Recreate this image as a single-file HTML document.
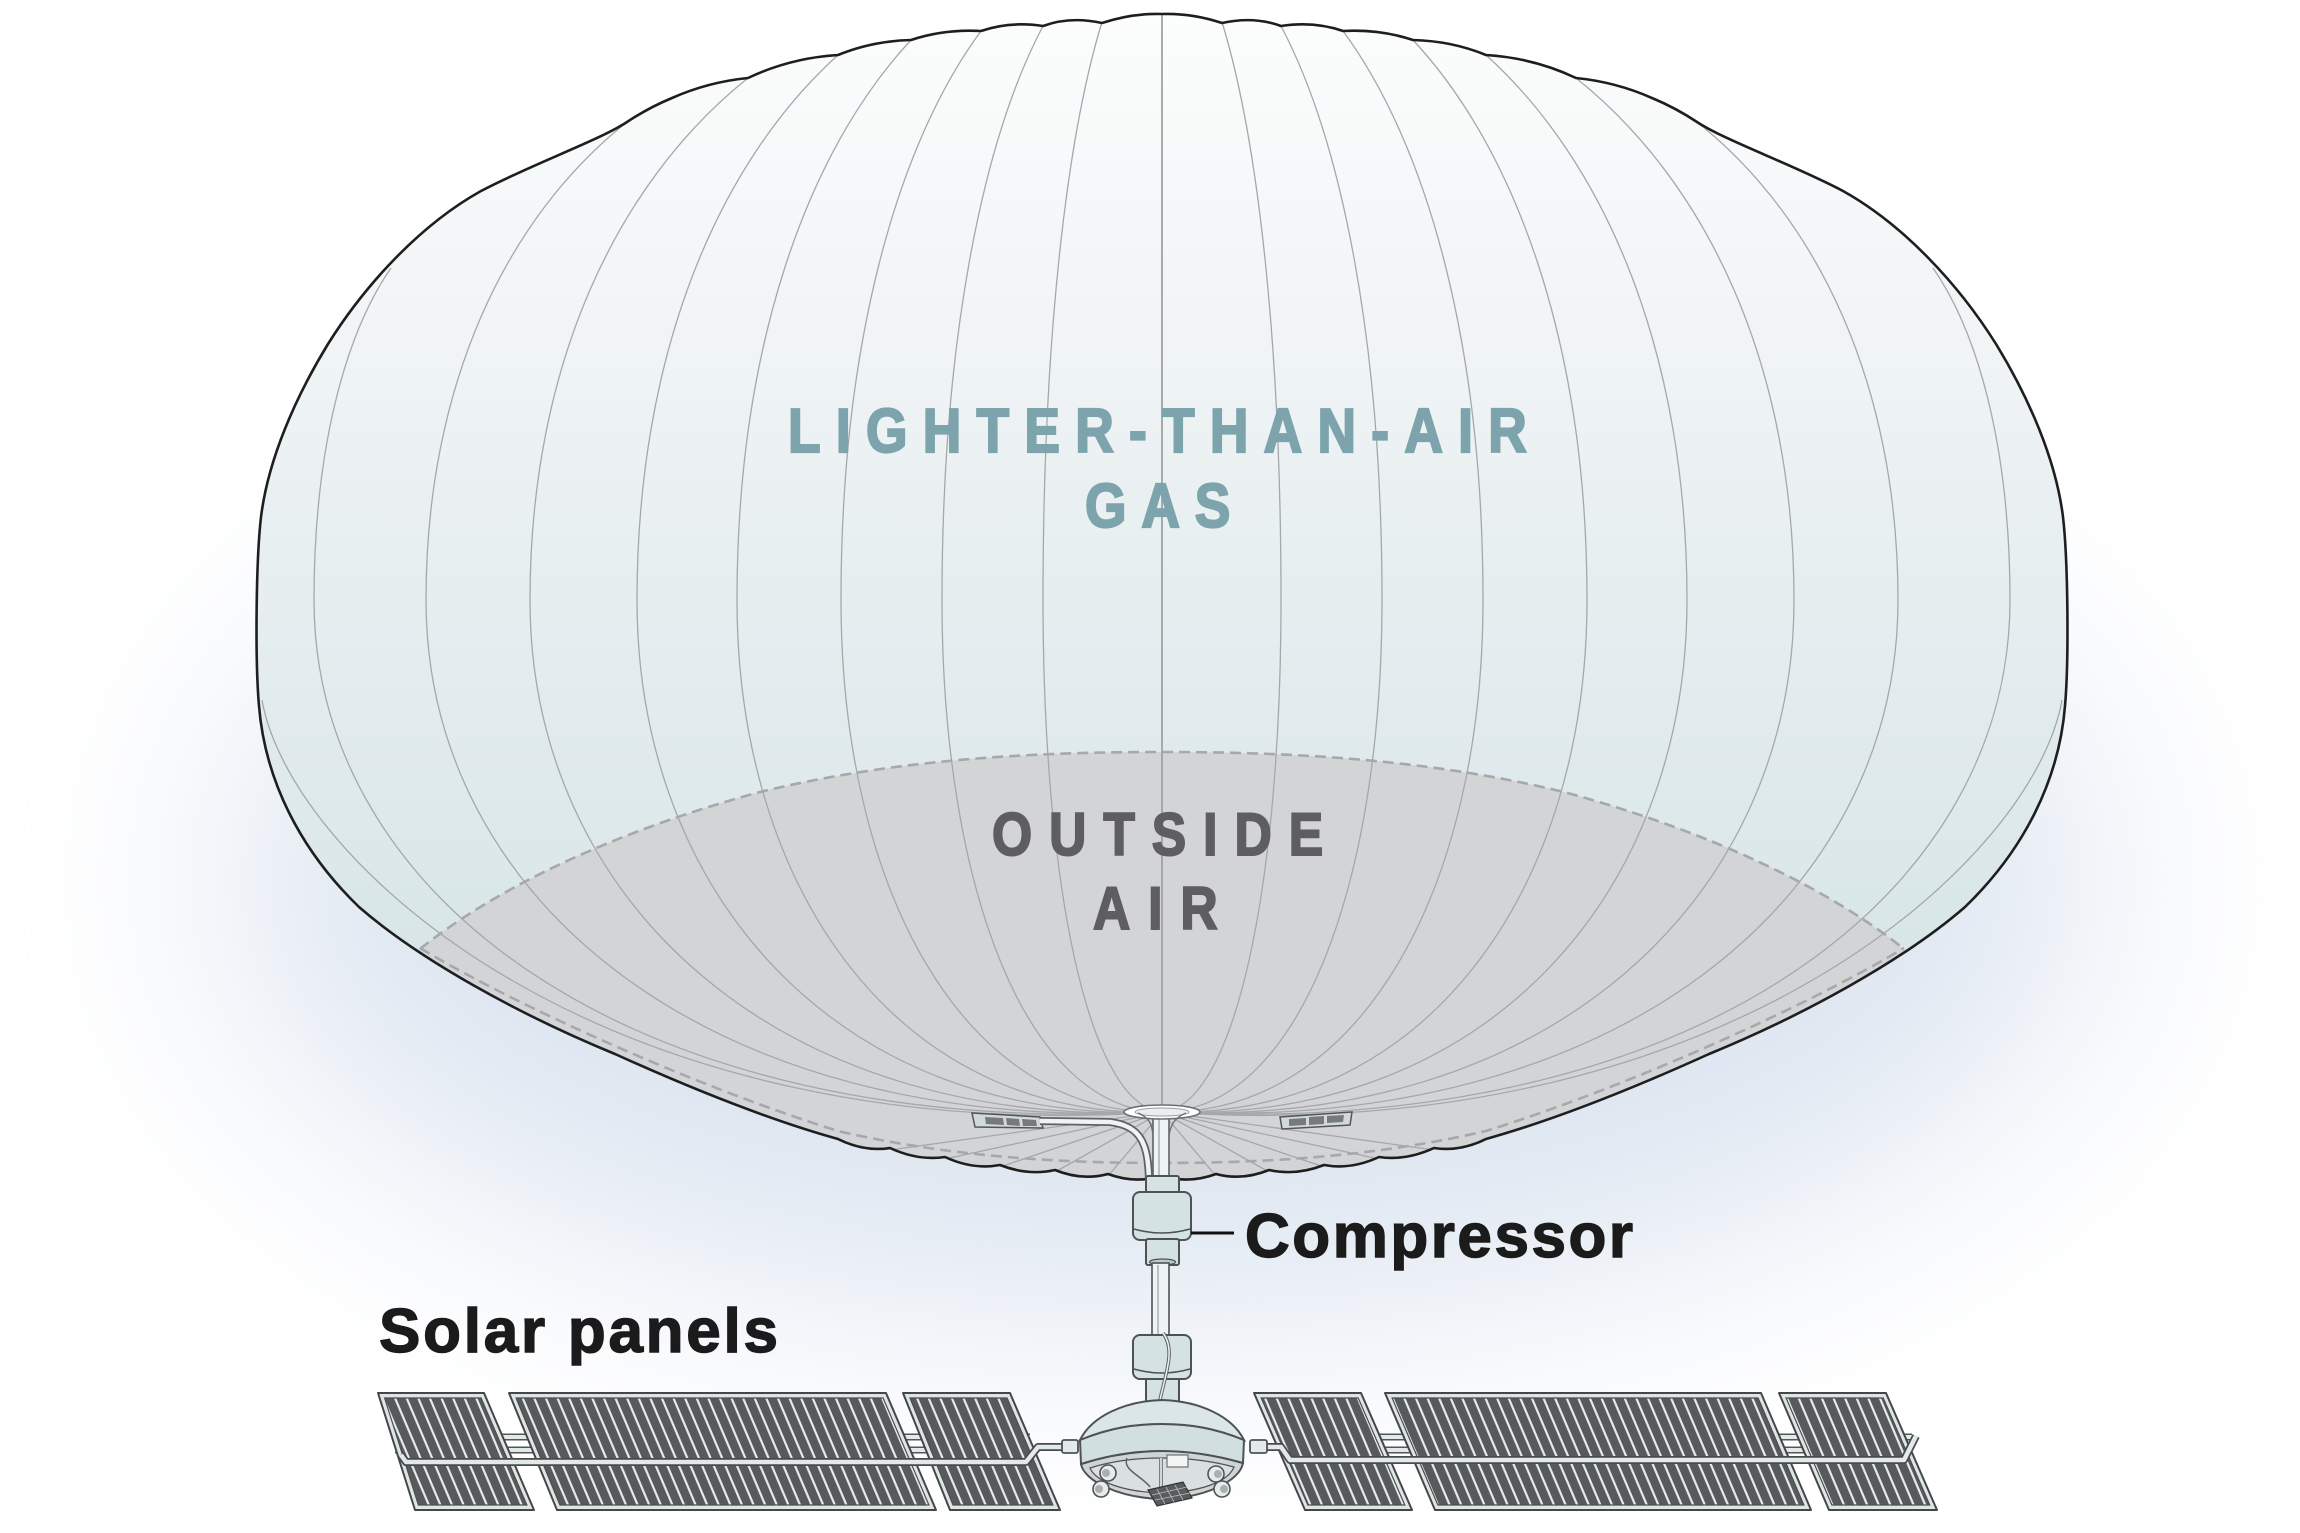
<!DOCTYPE html>
<html>
<head>
<meta charset="utf-8">
<style>
  html,body{margin:0;padding:0;background:#fff;}
  svg{display:block;}
  .lbl{font-family:"Liberation Sans",Arial,sans-serif;font-weight:bold;}
</style>
</head>
<body>
<svg width="2300" height="1533" viewBox="0 0 2300 1533" xmlns="http://www.w3.org/2000/svg">
  <defs>
    <filter id="blur" x="-60%" y="-60%" width="220%" height="220%">
      <feGaussianBlur stdDeviation="125"/>
    </filter>
    <linearGradient id="gas" x1="0" y1="14" x2="0" y2="960" gradientUnits="userSpaceOnUse">
      <stop offset="0" stop-color="#fcfdfd"/>
      <stop offset="0.35" stop-color="#f0f4f5"/>
      <stop offset="0.7" stop-color="#e3ecee"/>
      <stop offset="1" stop-color="#d8e6e7"/>
    </linearGradient>
    <clipPath id="balclip">
      <path d="M1162,14 Q1132,13 1102,23 Q1070,16 1043,26 Q1010,21 981,31 Q944,29 911,40 Q872,41 838,55 Q790,58 748,78 Q708,82 672,98 Q648,108 627,122 C600,140 530,165 481,191 C420,225 365,285 328,344 C295,398 268,460 261,517 C256,560 255,660 259,706 C265,780 300,850 359,907 C420,960 520,1015 615,1054 C690,1088 770,1120 838,1139 Q864,1152 890,1148 Q918,1161 945,1157 Q973,1170 1000,1165 Q1028,1176 1055,1170 Q1082,1181 1108,1174 Q1135,1184 1162,1176 Q1189,1184 1216,1174 Q1242,1181 1269,1170 Q1296,1176 1324,1165 Q1351,1170 1379,1157 Q1406,1161 1434,1148 Q1460,1152 1486,1139 C1554,1120 1634,1088 1709,1054 C1804,1015 1904,960 1965,907 C2024,850 2059,780 2065,706 C2069,660 2068,560 2063,517 C2056,460 2029,398 1996,344 C1959,285 1904,225 1843,191 C1794,165 1724,140 1697,122 Q1676,108 1652,98 Q1616,82 1576,78 Q1534,58 1486,55 Q1452,41 1413,40 Q1380,29 1343,31 Q1314,21 1281,26 Q1254,16 1222,23 Q1192,13 1162,14 Z"/>
    </clipPath>
    <pattern id="cells" width="11.6" height="40" patternUnits="userSpaceOnUse" patternTransform="skewX(23)">
      <rect width="11.6" height="40" fill="#e3eaeb"/>
      <rect x="0" width="9.2" height="40" fill="#58595b"/>
    </pattern>
  </defs>

  <!-- background -->
  <rect width="2300" height="1533" fill="#ffffff"/>
  <ellipse cx="1162" cy="880" rx="930" ry="430" fill="#dbe4f0" filter="url(#blur)"/>

  <!-- balloon fills -->
  <path fill="url(#gas)" d="M1162,14 Q1132,13 1102,23 Q1070,16 1043,26 Q1010,21 981,31 Q944,29 911,40 Q872,41 838,55 Q790,58 748,78 Q708,82 672,98 Q648,108 627,122 C600,140 530,165 481,191 C420,225 365,285 328,344 C295,398 268,460 261,517 C256,560 255,660 259,706 C265,780 300,850 359,907 C420,960 520,1015 615,1054 C690,1088 770,1120 838,1139 Q864,1152 890,1148 Q918,1161 945,1157 Q973,1170 1000,1165 Q1028,1176 1055,1170 Q1082,1181 1108,1174 Q1135,1184 1162,1176 Q1189,1184 1216,1174 Q1242,1181 1269,1170 Q1296,1176 1324,1165 Q1351,1170 1379,1157 Q1406,1161 1434,1148 Q1460,1152 1486,1139 C1554,1120 1634,1088 1709,1054 C1804,1015 1904,960 1965,907 C2024,850 2059,780 2065,706 C2069,660 2068,560 2063,517 C2056,460 2029,398 1996,344 C1959,285 1904,225 1843,191 C1794,165 1724,140 1697,122 Q1676,108 1652,98 Q1616,82 1576,78 Q1534,58 1486,55 Q1452,41 1413,40 Q1380,29 1343,31 Q1314,21 1281,26 Q1254,16 1222,23 Q1192,13 1162,14 Z"/>

  <g clip-path="url(#balclip)">
    <path fill="#d3d4d6" d="M420,949 C500,885 620,830 760,792 C900,758 1040,752 1162,752 C1284,752 1424,758 1564,792 C1704,830 1824,885 1904,949 L2200,1300 L120,1300 Z"/>
    <!-- gore lines -->
    <g fill="none" stroke="#a4a8ab" stroke-width="1.3">
      <path d="M1102,22 C1066.6,137.6 1043,339.9 1043,600 C1043,882.8 1088.2,1105.6 1162,1112"/>
      <path d="M1043,26 C982.4,140.8 942,341.7 942,600 C942,885.2 1025.6,1110.4 1162,1112"/>
      <path d="M981,31 C897,144.8 841,344 841,600 C841,887.6 963,1115.1 1162,1112"/>
      <path d="M911,40 C806.6,152 737,348 737,600 C737,890 898.5,1120 1162,1112"/>
      <path d="M838,55 C717.4,164 637,354.75 637,600 C637,892.4 836.5,1124.7 1162,1112"/>
      <path d="M748,78 C617.2,182.4 530,365 530,600 C530,894.9 770.2,1129.7 1162,1112"/>
      <path d="M627,122 C506.4,217.6 426,385 426,600 C426,897.3 705.7,1134.6 1162,1112"/>
      <path d="M391,268 C344.8,334.4 314,450.6 314,600 C314,900 636.2,1139.9 1162,1112"/>
      <path d="M262,700 C290,860 600,1150 1162,1112"/>
      <path d="M1222,22 C1257.4,137.6 1281,339.9 1281,600 C1281,882.8 1235.8,1105.6 1162,1112"/>
      <path d="M1281,26 C1341.6,140.8 1382,341.7 1382,600 C1382,885.2 1298.4,1110.4 1162,1112"/>
      <path d="M1343,31 C1427,144.8 1483,344 1483,600 C1483,887.6 1361,1115.1 1162,1112"/>
      <path d="M1413,40 C1517.4,152 1587,348 1587,600 C1587,890 1425.5,1120 1162,1112"/>
      <path d="M1486,55 C1606.6,164 1687,354.75 1687,600 C1687,892.4 1487.5,1124.7 1162,1112"/>
      <path d="M1576,78 C1706.8,182.4 1794,365 1794,600 C1794,894.9 1553.8,1129.7 1162,1112"/>
      <path d="M1697,122 C1817.6,217.6 1898,385 1898,600 C1898,897.3 1618.3,1134.6 1162,1112"/>
      <path d="M1933,268 C1979.2,334.4 2010,450.6 2010,600 C2010,900 1687.8,1139.9 1162,1112"/>
      <path d="M2062,700 C2034,860 1724,1150 1162,1112"/>
      <path d="M1162,1112 L890,1150 M1162,1112 L945,1159 M1162,1112 L1000,1167 M1162,1112 L1055,1172 M1162,1112 L1108,1176 M1162,1112 L1216,1176 M1162,1112 L1269,1172 M1162,1112 L1324,1167 M1162,1112 L1379,1159 M1162,1112 L1434,1150"/>
    </g>
    <line x1="1162" y1="14" x2="1162" y2="1112" stroke="#9ea2a5" stroke-width="1.8"/>
    <!-- dashed membrane -->
    <g fill="none" stroke="#a6a8ab" stroke-width="2.6" stroke-dasharray="11 6">
      <path d="M420,949 C500,885 620,830 760,792 C900,758 1040,752 1162,752 C1284,752 1424,758 1564,792 C1704,830 1824,885 1904,949"/>
      <path d="M420,948 C520,1008 700,1088 838,1131 C950,1157 1060,1163 1162,1163 C1264,1163 1374,1157 1486,1131 C1624,1088 1804,1008 1904,948"/>
    </g>
  </g>

  <!-- balloon outline -->
  <path fill="none" stroke="#1e1e1e" stroke-width="2.6" stroke-linejoin="round" d="M1162,14 Q1132,13 1102,23 Q1070,16 1043,26 Q1010,21 981,31 Q944,29 911,40 Q872,41 838,55 Q790,58 748,78 Q708,82 672,98 Q648,108 627,122 C600,140 530,165 481,191 C420,225 365,285 328,344 C295,398 268,460 261,517 C256,560 255,660 259,706 C265,780 300,850 359,907 C420,960 520,1015 615,1054 C690,1088 770,1120 838,1139 Q864,1152 890,1148 Q918,1161 945,1157 Q973,1170 1000,1165 Q1028,1176 1055,1170 Q1082,1181 1108,1174 Q1135,1184 1162,1176 Q1189,1184 1216,1174 Q1242,1181 1269,1170 Q1296,1176 1324,1165 Q1351,1170 1379,1157 Q1406,1161 1434,1148 Q1460,1152 1486,1139 C1554,1120 1634,1088 1709,1054 C1804,1015 1904,960 1965,907 C2024,850 2059,780 2065,706 C2069,660 2068,560 2063,517 C2056,460 2029,398 1996,344 C1959,285 1904,225 1843,191 C1794,165 1724,140 1697,122 Q1676,108 1652,98 Q1616,82 1576,78 Q1534,58 1486,55 Q1452,41 1413,40 Q1380,29 1343,31 Q1314,21 1281,26 Q1254,16 1222,23 Q1192,13 1162,14 Z"/>

  <!-- balloon labels -->
  <g class="lbl" fill="#7da4ac" stroke="#7da4ac" stroke-width="2.2" font-size="62">
    <text transform="translate(788,452) scale(0.86,1)" textLength="859" lengthAdjust="spacing">LIGHTER-THAN-AIR</text>
    <text transform="translate(1085,527) scale(0.86,1)" textLength="169" lengthAdjust="spacing">GAS</text>
  </g>
  <g class="lbl" fill="#5e5e60" stroke="#5e5e60" stroke-width="2" font-size="60">
    <text transform="translate(992,855) scale(0.86,1)" textLength="385" lengthAdjust="spacing">OUTSIDE</text>
    <text transform="translate(1093,929) scale(0.86,1)" textLength="145" lengthAdjust="spacing">AIR</text>
  </g>

  <!-- small panels on balloon -->
  <polygon points="972,1113 1040,1117 1043,1128 975,1127" fill="#d0dadb" stroke="#555" stroke-width="1.5"/>
  <polygon points="985,1117 1003,1118 1004,1125 986,1124" fill="#777a7c"/>
  <polygon points="1006,1118 1019,1119 1020,1126 1007,1125" fill="#777a7c"/>
  <polygon points="1022,1119 1036,1120 1037,1126 1023,1126" fill="#777a7c"/>
  <polygon points="1280,1117 1352,1112 1350,1125 1282,1129" fill="#d0dadb" stroke="#555" stroke-width="1.5"/>
  <polygon points="1289,1119 1306,1118 1306,1125 1289,1126" fill="#777a7c"/>
  <polygon points="1309,1117 1324,1116 1324,1124 1309,1125" fill="#777a7c"/>
  <polygon points="1327,1116 1344,1115 1343,1122 1327,1123" fill="#777a7c"/>

  <!-- tubes from ring -->
  <path d="M1149,1180 C1148,1145 1142,1126 1110,1122 L1040,1121" fill="none" stroke="#5f6264" stroke-width="8"/>
  <path d="M1149,1180 C1148,1145 1142,1126 1110,1122 L1040,1121" fill="none" stroke="#eef3f4" stroke-width="4.5"/>
  <rect x="1153" y="1114" width="16" height="66" fill="#eef3f4" stroke="#5f6264" stroke-width="1.6"/>
  <line x1="1159" y1="1116" x2="1159" y2="1178" stroke="#8a8e90" stroke-width="1"/>
  <!-- ring -->
  <ellipse cx="1162" cy="1112" rx="38" ry="7" fill="#ffffff" stroke="#6d7072" stroke-width="1.6"/>
  <ellipse cx="1162" cy="1112" rx="27" ry="4" fill="#e9eeef" stroke="#9a9ea0" stroke-width="1"/>
  <path d="M1138,1113 C1150,1118 1152,1125 1153,1135 M1186,1113 C1174,1118 1171,1125 1169,1135" fill="none" stroke="#6d7072" stroke-width="1.4"/>

  <!-- compressor -->
  <g stroke="#4f5253" stroke-width="2" fill="#d4e2e4">
    <rect x="1146" y="1176" width="33" height="18" rx="2"/>
    <rect x="1133" y="1192" width="58" height="48" rx="7"/>
    <path d="M1134,1229 Q1162,1237 1190,1229" fill="none" stroke-width="1.6"/>
    <rect x="1146" y="1239" width="33" height="26" rx="2"/>
    <ellipse cx="1162.5" cy="1262" rx="13" ry="3" fill="#bfcacc" stroke-width="1.2"/>
    <rect x="1152" y="1263" width="17" height="74" fill="#eef3f4" stroke-width="1.6"/>
  </g>
  <line x1="1158" y1="1265" x2="1158" y2="1335" stroke="#8a8e90" stroke-width="1"/>
  <!-- lower unit -->
  <g stroke="#4f5253" stroke-width="2" fill="#d4e2e4">
    <rect x="1146" y="1377" width="33" height="27" rx="2"/>
    <rect x="1133" y="1335" width="58" height="44" rx="7"/>
    <path d="M1134,1369 Q1162,1377 1190,1369" fill="none" stroke-width="1.6"/>
  </g>
  <path d="M1163,1333 C1176,1350 1165,1375 1160,1400 L1158,1408" fill="none" stroke="#5f6264" stroke-width="3.5"/>
  <path d="M1163,1333 C1176,1350 1165,1375 1160,1400 L1158,1408" fill="none" stroke="#eef3f4" stroke-width="1.5"/>

  <!-- leader line -->
  <line x1="1191" y1="1233" x2="1234" y2="1233" stroke="#111" stroke-width="3"/>

  <!-- wings: back double rods -->
  <g fill="none">
    <path d="M395,1437 L1030,1437 M395,1450 L1030,1450 M1290,1437 L1912,1437 M1290,1450 L1912,1450" stroke="#555" stroke-width="7"/>
    <path d="M395,1437 L1030,1437 M395,1450 L1030,1450 M1290,1437 L1912,1437 M1290,1450 L1912,1450" stroke="#e1eaeb" stroke-width="4"/>
  </g>

  <!-- panels -->
  <g stroke="#464646" stroke-width="2" stroke-linejoin="round">
    <polygon points="378,1393 484,1393 534,1510 415,1510" fill="#dde6e7"/>
    <polygon points="509,1393 886,1393 936,1510 557,1510" fill="#dde6e7"/>
    <polygon points="903,1393 1010,1393 1060,1510 950,1510" fill="#dde6e7"/>
    <polygon points="1254,1393 1361,1393 1412,1510 1305,1510" fill="#dde6e7"/>
    <polygon points="1385,1393 1761,1393 1811,1510 1435,1510" fill="#dde6e7"/>
    <polygon points="1779,1393 1886,1393 1937,1510 1829,1510" fill="#dde6e7"/>
  </g>
  <g stroke="#4d4d4d" stroke-width="1.2" fill="url(#cells)">
    <polygon points="384.6,1398 481.1,1398 526.9,1505 418.4,1505"/>
    <polygon points="516.1,1398 883.1,1398 928.9,1505 559.9,1505"/>
    <polygon points="910,1398 1007.1,1398 1052.9,1505 953,1505"/>
    <polygon points="1261.2,1398 1358.2,1398 1404.8,1505 1307.8,1505"/>
    <polygon points="1392.1,1398 1758.1,1398 1803.9,1505 1437.9,1505"/>
    <polygon points="1786.1,1398 1883.2,1398 1929.8,1505 1831.9,1505"/>
  </g>

  <!-- front long rods -->
  <g fill="none" stroke-linejoin="round">
    <path d="M401,1455 L406,1462 L1026,1462 L1038,1447 L1066,1447" stroke="#4a4a4a" stroke-width="8"/>
    <path d="M401,1455 L406,1462 L1026,1462 L1038,1447 L1066,1447" stroke="#e1eaeb" stroke-width="4.5"/>
    <path d="M1258,1447 L1281,1447 L1290,1460 L1904,1460 L1916,1436" stroke="#4a4a4a" stroke-width="8"/>
    <path d="M1258,1447 L1281,1447 L1290,1460 L1904,1460 L1916,1436" stroke="#e1eaeb" stroke-width="4.5"/>
  </g>
  <rect x="1062" y="1440" width="16" height="13" rx="2" fill="#e2eaeb" stroke="#4f5253" stroke-width="1.8"/>
  <rect x="1250" y="1440" width="17" height="13" rx="2" fill="#e2eaeb" stroke="#4f5253" stroke-width="1.8"/>

  <!-- hub dome -->
  <g stroke="#4f5253" stroke-width="2">
    <path d="M1081,1464 C1109,1455 1134,1451 1162,1451 C1190,1451 1215,1455 1243,1463 C1240,1481 1205,1498 1162,1499 C1119,1498 1084,1481 1081,1464 Z" fill="#cfd5d7"/>
    <path d="M1090,1468 C1112,1461 1136,1458 1162,1458 C1188,1458 1212,1461 1234,1467 C1228,1482 1200,1492 1162,1493 C1124,1492 1096,1482 1090,1468 Z" fill="#dadfe0" stroke-width="1.2"/>
    <path d="M1080,1440 C1109,1428 1134,1424 1162,1424 C1190,1424 1215,1428 1244,1440 L1243,1463 C1215,1455 1190,1451 1162,1451 C1134,1451 1109,1455 1081,1464 Z" fill="#d1dfe1"/>
    <path d="M1080,1440 C1092,1416 1125,1401 1162,1400 C1199,1401 1232,1416 1244,1440 C1215,1428 1190,1424 1162,1424 C1134,1424 1109,1428 1080,1440 Z" fill="#dae6e8"/>
  </g>
  <line x1="1161" y1="1458" x2="1161" y2="1494" stroke="#7b7f81" stroke-width="4"/>
  <line x1="1161" y1="1458" x2="1161" y2="1494" stroke="#eef3f4" stroke-width="1.5"/>
  <rect x="1167" y="1455" width="21" height="12" fill="#f3f5f5" stroke="#6d7072" stroke-width="1.2"/>
  <path d="M1127,1458 C1122,1470 1142,1476 1150,1487" fill="none" stroke="#5f6264" stroke-width="1.5"/>
  <!-- cameras -->
  <g stroke="#4f5253" stroke-width="1.6">
    <circle cx="1108" cy="1473" r="8" fill="#e6ecec"/>
    <circle cx="1101" cy="1489" r="8" fill="#e6ecec"/>
    <circle cx="1216" cy="1474" r="8" fill="#e6ecec"/>
    <circle cx="1222" cy="1489" r="8" fill="#e6ecec"/>
  </g>
  <g fill="#a9b0b2">
    <circle cx="1106" cy="1473" r="4"/>
    <circle cx="1099" cy="1489" r="4"/>
    <circle cx="1218" cy="1474" r="4"/>
    <circle cx="1224" cy="1489" r="4"/>
  </g>
  <polygon points="1148,1490 1183,1482 1192,1498 1157,1506" fill="#5a5b5d" stroke="#333" stroke-width="1.2"/>
  <path d="M1152,1495 L1187,1487 M1155,1500 L1190,1493 M1157,1489 L1165,1504 M1166,1487 L1174,1502 M1175,1485 L1183,1500" stroke="#b8bdbf" stroke-width="0.8"/>

  <!-- labels -->
  <text class="lbl" x="1245" y="1257" font-size="62" fill="#1b1b1b" stroke="#1b1b1b" stroke-width="1.4" textLength="388" lengthAdjust="spacing">Compressor</text>
  <text class="lbl" x="379" y="1352" font-size="62" fill="#1b1b1b" stroke="#1b1b1b" stroke-width="1.4" textLength="399" lengthAdjust="spacing">Solar panels</text>
</svg>
</body>
</html>
